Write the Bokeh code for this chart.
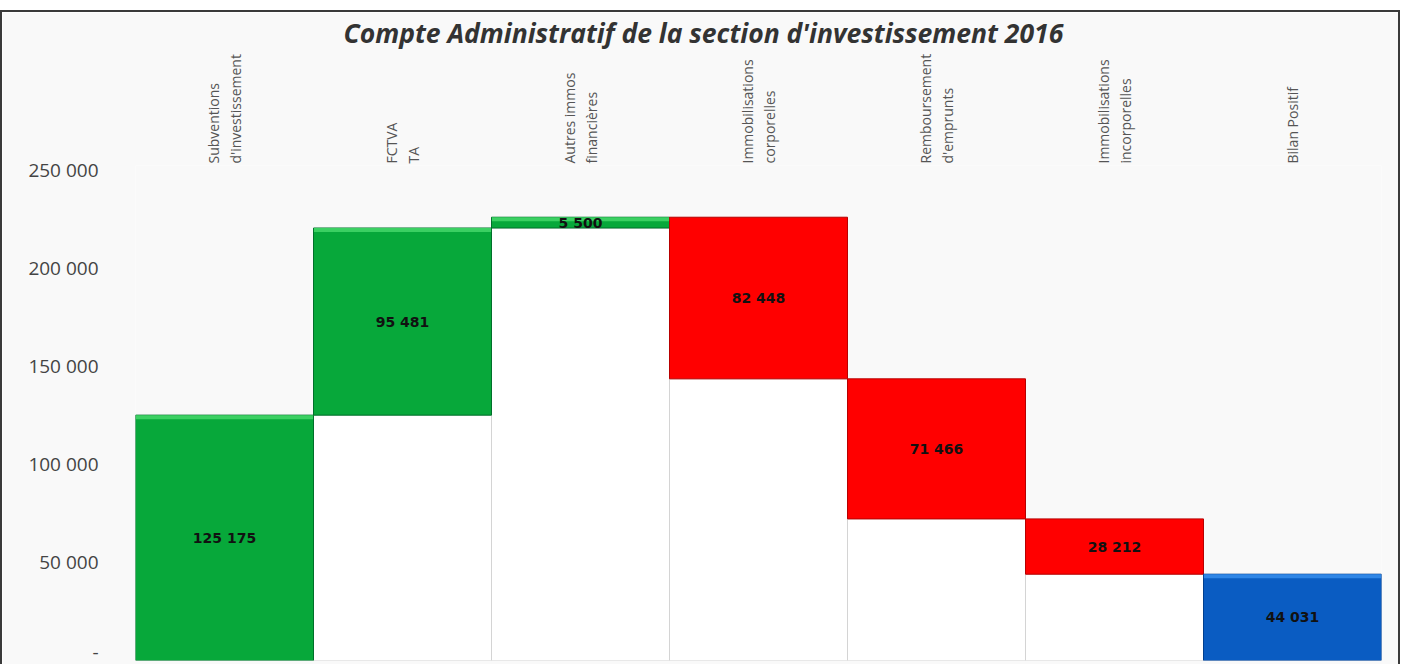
from bokeh.plotting import figure
from bokeh.models import FactorRange, Range1d, FixedTicker, ColumnDataSource
from bokeh.embed import file_html
from bokeh.resources import INLINE
from bokeh.core.properties import value

# ---- data ----
categories = [
    "Subventions\nd'investissement",
    "FCTVA\nTA",
    "Autres immos\nfinancières",
    "Immobilisations\ncorporelles",
    "Remboursement\nd'emprunts",
    "Immobilisations\nincorporelles",
    "Bilan Positif",
]
amounts = [125175, 95481, 5500, -82448, -71466, -28212, 44031]
kinds = ["gain", "gain", "gain", "loss", "loss", "loss", "total"]

y_ticks = [0, 50000, 100000, 150000, 200000, 250000]
y_tick_labels = ["-", "50 000", "100 000", "150 000", "200 000", "250 000"]

title_text = "Compte Administratif de la section d'investissement 2016"

# ---- waterfall geometry ----
Y_MAX = 252550
fills = {"gain": "#07a83a", "loss": "#ff0000", "total": "#0a5cc2"}
edges = {"gain": "#00702a", "loss": "#b80000", "total": "#003f8f"}
shine = {"gain": "#3bd062", "total": "#2f86e6"}
running = 0
bottoms, tops, labels, fc, lc, mids = [], [], [], [], [], []
for v, k in zip(amounts, kinds):
    if k == "total":
        b, t = 0, v
    elif v >= 0:
        b, t = running, running + v
        running += v
    else:
        b, t = running + v, running
        running += v
    bottoms.append(b)
    tops.append(t)
    mids.append((b + t) / 2)
    labels.append(f"{abs(v):,}".replace(",", " "))
    fc.append(fills[k])
    lc.append(edges[k])

src = ColumnDataSource(dict(x=categories, bottom=bottoms, top=tops, fill=fc,
                            line=lc, mid=mids, label=labels))
base_src = ColumnDataSource(dict(x=[c for c, b in zip(categories, bottoms) if b > 0],
                                 top=[b for b in bottoms if b > 0]))
strip = Y_MAX * 4 / 490  # ~4px highlight strip
sh_idx = [i for i, k in enumerate(kinds) if k in shine]
shine_src = ColumnDataSource(dict(
    x=[categories[i] for i in sh_idx],
    top=[tops[i] for i in sh_idx],
    bottom=[max(bottoms[i], tops[i] - strip) for i in sh_idx],
    fill=[shine[kinds[i]] for i in sh_idx],
))

p = figure(
    x_range=FactorRange(*categories, range_padding=0),
    y_range=Range1d(0, Y_MAX),
    width=1400, height=654,
    output_backend="svg", toolbar_location=None,
    x_axis_location="above",
    min_border_left=133, min_border_right=21, min_border_bottom=6,
    min_border_top=153,
    background_fill_color="#f9f9f9", border_fill_color="#f9f9f9",
    outline_line_color=None,
    styles={"border-top": "2px solid #3a3a3a", "border-left": "2px solid #3a3a3a",
            "border-right": "2px solid #3a3a3a", "box-sizing": "border-box",
            "margin-top": "10px"},
)
p.title.text = title_text
p.title.align = "left"
p.title.offset = 208
p.title.text_font = "Open Sans"
p.title.text_font_style = "bold italic"
p.title.text_font_size = "26.5px"
p.title.text_color = "#333333"
p.title.standoff = 0

# invisible base bars (white)
p.vbar(x="x", bottom=0, top="top", width=1.0, source=base_src,
       fill_color="#ffffff", line_color="#d4d4d4", line_width=1)
# floating bars
p.vbar(x="x", bottom="bottom", top="top", width=1.0, source=src,
       fill_color="fill", line_color="line", line_width=1)
p.vbar(x="x", bottom="bottom", top="top", width=0.995, source=shine_src,
       fill_color="fill", line_color=None)
p.text(x="x", y="mid", text="label", source=src, text_align="center",
       text_baseline="middle", text_font=value("DejaVu Sans"),
       text_font_style="bold", text_font_size="14px", text_color="#111111")

p.grid.visible = False

xa = p.xaxis[0]
xa.axis_line_color = None
xa.major_tick_line_color = None
xa.major_tick_out = 0
xa.major_label_orientation = "vertical"
xa.major_label_standoff = 2
xa.major_label_text_font = "Open Sans"
xa.major_label_text_font_size = "14px"
xa.major_label_text_color = "#555555"

ya = p.yaxis[0]
ya.ticker = FixedTicker(ticks=y_ticks)
ya.major_label_overrides = {t: l for t, l in zip(y_ticks, y_tick_labels)}
ya.axis_line_color = None
ya.major_tick_line_color = None
ya.major_tick_out = 0
ya.minor_tick_line_color = None
ya.major_label_standoff = 37
ya.major_label_text_font = "Open Sans"
ya.major_label_text_font_size = "19px"
ya.major_label_text_color = "#444444"

open("out.html", "w").write(file_html(p, INLINE))
